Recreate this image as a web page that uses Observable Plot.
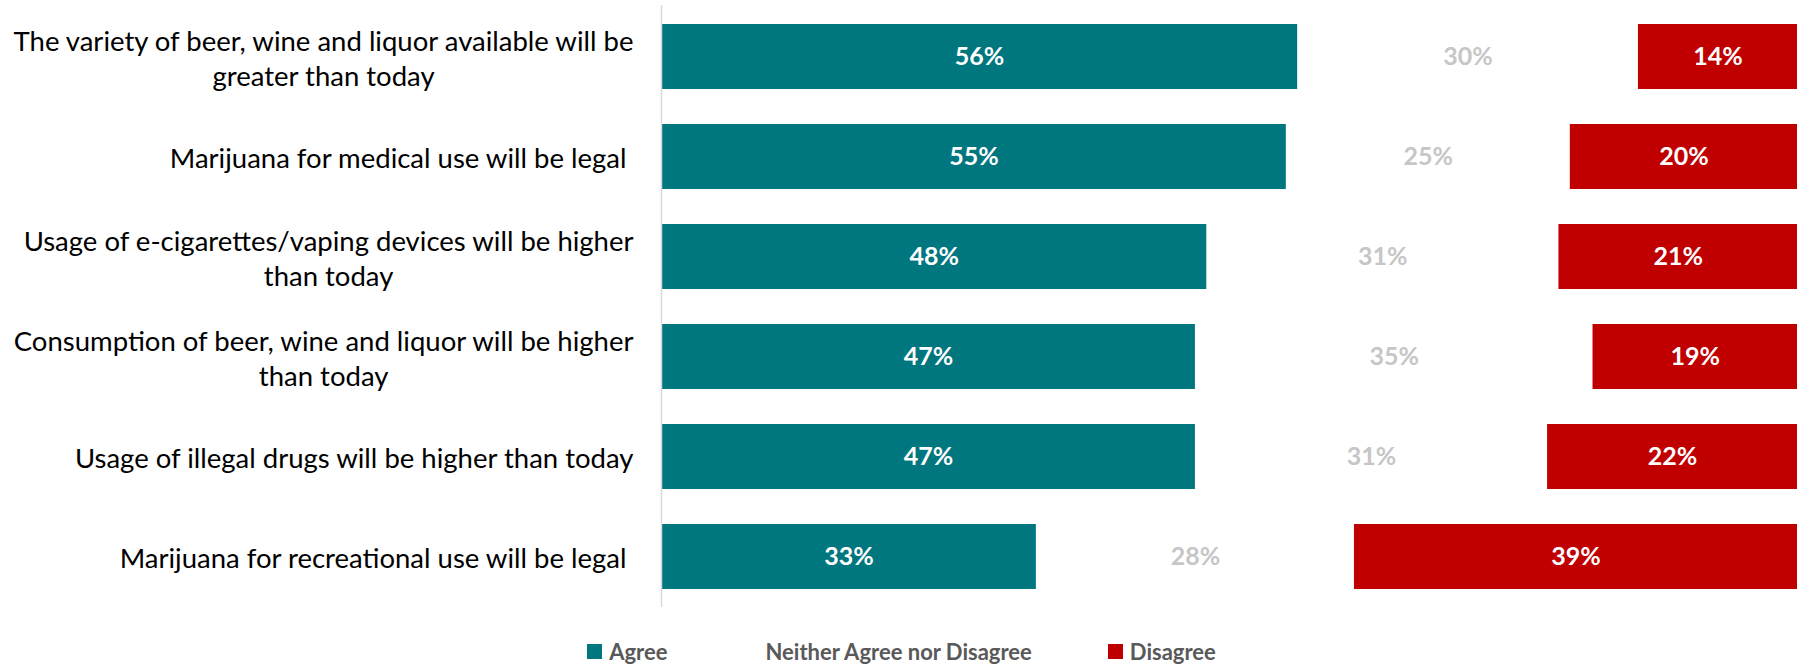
<!DOCTYPE html>
<html><head><meta charset="utf-8">
<script src="https://cdn.jsdelivr.net/npm/d3@7"></script>
<script src="https://cdn.jsdelivr.net/npm/@observablehq/plot@0.6"></script>
<style>
body{margin:0;background:#fff;font-family:Lato,sans-serif}
#chart{width:1803px}
#legend{display:flex;justify-content:center;align-items:center;gap:76px;height:34px;padding-top:2px;font:bold 22px Lato,sans-serif;color:#595959}
#legend .item{display:flex;align-items:center}
#legend .sw{width:15px;height:15px;margin-right:7px;display:inline-block}
</style>
</head><body><div id="chart"></div><div id="legend"></div>
<script>
const statements = [
  "The variety of beer, wine and liquor available will be\ngreater than today",
  "Marijuana for medical use will be legal\u00a0",
  "Usage of e-cigarettes/vaping devices will be higher\nthan today",
  "Consumption of beer, wine and liquor will be higher\nthan today",
  "Usage of illegal drugs will be higher than today",
  "Marijuana for recreational use will be legal\u00a0"
];
const responses = ["Agree", "Neither Agree nor Disagree", "Disagree"];
// bar shares
const agree = [56, 55, 48, 47, 47, 33];
const neither = [30, 25, 31, 35, 31, 28];
const disagree = [14, 20, 21, 18, 22, 39];
// data labels as printed on the chart
const agreeLabels = ["56%", "55%", "48%", "47%", "47%", "33%"];
const neitherLabels = ["30%", "25%", "31%", "35%", "31%", "28%"];
const disagreeLabels = ["14%", "20%", "21%", "19%", "22%", "39%"];

const barColors = {"Agree": "#00767F", "Neither Agree nor Disagree": "transparent", "Disagree": "#C00000"};
const labelColors = {"Agree": "#ffffff", "Neither Agree nor Disagree": "#C6C6C6", "Disagree": "#ffffff"};

const series = [agree, neither, disagree];
const labels = [agreeLabels, neitherLabels, disagreeLabels];
const data = [];
statements.forEach((s, i) => responses.forEach((r, j) =>
  data.push({statement: s, response: r, value: series[j][i], label: labels[j][i]})));

const stackOpts = {x: "value", y: "statement", offset: "normalize", order: responses};

const chart = Plot.plot({
  width: 1803,
  height: 632,
  marginLeft: 661,
  marginRight: 6,
  marginTop: 5,
  marginBottom: 25,
  style: {fontFamily: "Lato, sans-serif", background: "#fff"},
  x: {domain: [0, 1], axis: null},
  y: {domain: statements, paddingInner: 0.35, paddingOuter: 0.175, label: null},
  color: {type: "identity"},
  marks: [
    Plot.barX(data, Plot.stackX({...stackOpts, fill: d => barColors[d.response]})),
    Plot.text(data, Plot.stackX({...stackOpts, text: "label", fill: d => labelColors[d.response], fontSize: 25, fontWeight: "bold"})),
    Plot.ruleX([0], {stroke: "#D9D9D9", strokeWidth: 1.5}),
    Plot.axisY({tickSize: 0, tickPadding: 28, fontSize: 27.5, lineHeight: 1.3, fill: "#000", label: null, lineWidth: 100})
  ]
});
document.getElementById("chart").appendChild(chart);

// center wrapped lines under the longest line (right-aligned block)
chart.querySelectorAll("g[aria-label='y-axis tick label'] text").forEach(t => {
  const spans = t.querySelectorAll("tspan");
  if (spans.length > 1) {
    const w = Math.max(...Array.from(spans, s => s.getComputedTextLength()));
    const x0 = +(spans[0].getAttribute("x") || 0);
    t.setAttribute("text-anchor", "middle");
    spans.forEach(s => s.setAttribute("x", x0 - w / 2));
  }
});

const legend = document.getElementById("legend");
responses.forEach(r => {
  const it = document.createElement("span");
  it.className = "item";
  const sw = document.createElement("span");
  sw.className = "sw";
  sw.style.background = barColors[r];
  it.appendChild(sw);
  it.appendChild(document.createTextNode(r));
  legend.appendChild(it);
});
</script>
</body></html>
